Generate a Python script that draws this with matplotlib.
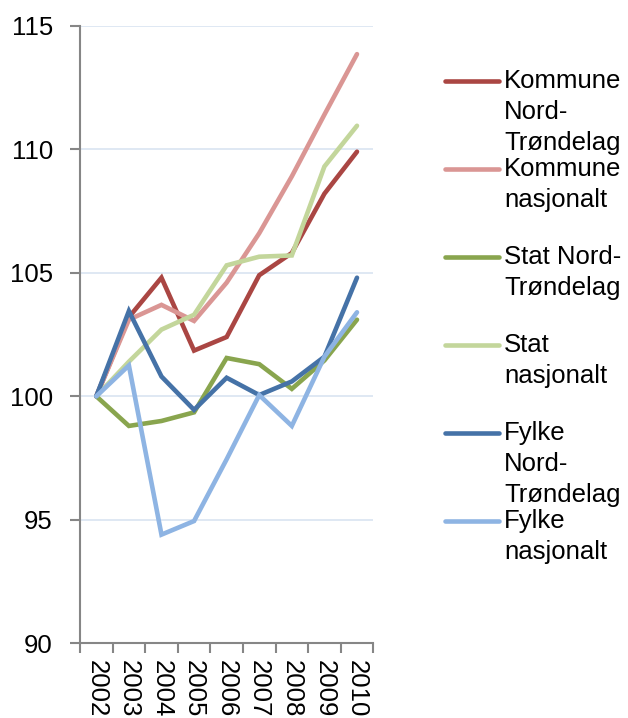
import matplotlib.pyplot as plt
from matplotlib.lines import Line2D

years = ["2002", "2003", "2004", "2005", "2006", "2007", "2008", "2009", "2010"]

kommune_nt = [100, 103.2, 104.8, 101.85, 102.4, 104.9, 105.8, 108.2, 109.9]
kommune_nasj = [100, 103.1, 103.7, 103.05, 104.6, 106.6, 108.9, 111.4, 113.85]
stat_nt = [100, 98.8, 99.0, 99.35, 101.55, 101.3, 100.3, 101.45, 103.1]
stat_nasj = [100, 101.4, 102.7, 103.3, 105.3, 105.65, 105.7, 109.3, 110.95]
fylke_nt = [100, 103.45, 100.8, 99.45, 100.75, 100.05, 100.6, 101.6, 104.8]
fylke_nasj = [100, 101.25, 94.4, 94.95, 97.45, 100.05, 98.8, 101.6, 103.4]

labels = [
    "Kommune\nNord-\nTrøndelag",
    "Kommune\nnasjonalt",
    "Stat Nord-\nTrøndelag",
    "Stat\nnasjonalt",
    "Fylke\nNord-\nTrøndelag",
    "Fylke\nnasjonalt",
]
series = [kommune_nt, kommune_nasj, stat_nt, stat_nasj, fylke_nt, fylke_nasj]
colors = ["#AA4643", "#DA9694", "#89A54E", "#C3D69B", "#4572A7", "#8EB4E3"]

plt.rcParams["font.family"] = ["Liberation Sans", "DejaVu Sans"]
AXIS_GRAY = "#868686"
FS = 18.5

fig = plt.figure(figsize=(6.28, 7.18), dpi=100)
ax = fig.add_axes([0.1274, 0.104, 0.4670, 0.8602])

x = list(range(len(years)))
for vals, color in zip(series, colors):
    ax.plot(x, vals, color=color, linewidth=3.3, solid_capstyle="round",
            solid_joinstyle="miter")

ax.set_xlim(-0.5, len(years) - 0.5)
ax.set_ylim(90, 115)
ax.set_yticks([90, 95, 100, 105, 110, 115])
ax.set_xticks(x)
ax.set_xticklabels(years, rotation=-90, fontsize=18.5)
ax.set_xticks([i - 0.5 for i in range(len(years) + 1)], minor=True)
ax.tick_params(axis="x", which="major", length=0, pad=12)
ax.tick_params(axis="x", which="minor", length=7, width=1.5, color=AXIS_GRAY)
ax.tick_params(axis="y", length=7, width=1.5, color=AXIS_GRAY, labelsize=FS, pad=12.5)

for y in [95, 100, 105, 110, 115]:
    ax.axhline(y, color="#DCE6F2", linewidth=1.3, zorder=0)

for side in ["top", "right"]:
    ax.spines[side].set_visible(False)
for side in ["left", "bottom"]:
    ax.spines[side].set_color(AXIS_GRAY)
    ax.spines[side].set_linewidth(1.5)

# manual legend, Excel-style
legend_y = [81, 169, 257, 345, 433, 521]
for lab, color, ypx in zip(labels, colors, legend_y):
    yf = 1 - ypx / 718
    fig.add_artist(Line2D([445 / 628, 499 / 628], [yf, yf], color=color,
                          linewidth=3.3, solid_capstyle="round",
                          transform=fig.transFigure))
    fig.text(504 / 628, 1 - (ypx - 12) / 718, lab, fontsize=FS, va="top",
             ha="left", linespacing=1.37)

fig.savefig("out.png", dpi=100, facecolor="white")
